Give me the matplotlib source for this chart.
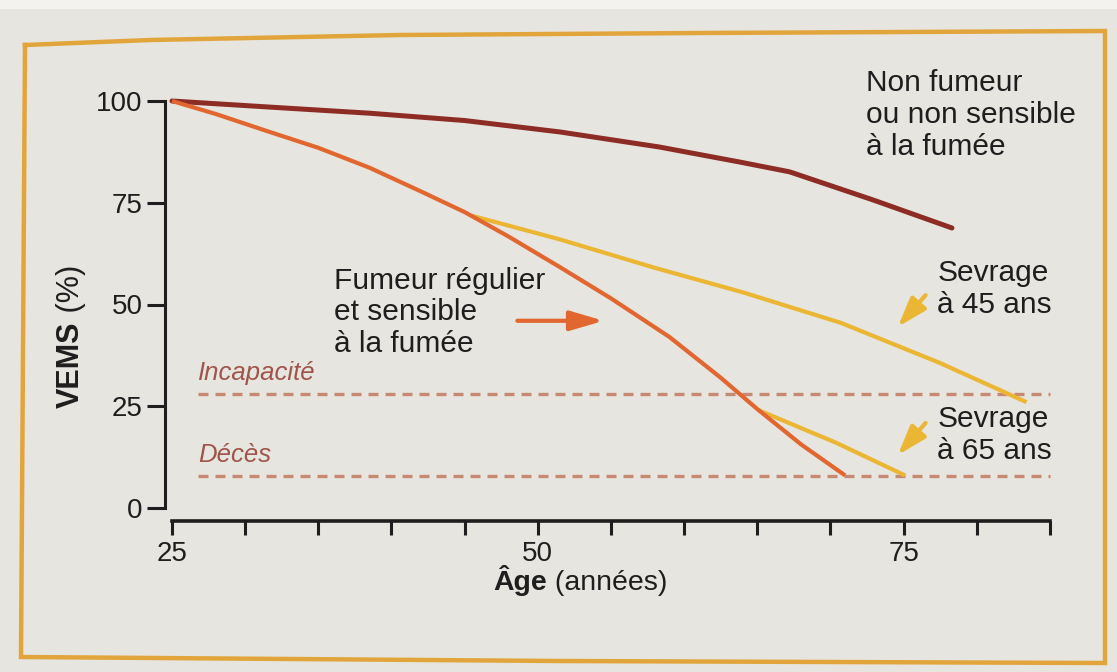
import matplotlib
matplotlib.use("Agg")
import matplotlib.pyplot as plt
from matplotlib.lines import Line2D
from matplotlib.patches import Rectangle

plt.rcParams['font.family'] = ['Liberation Sans', 'DejaVu Sans']

# VEMS (%), by age (years)
age_non_fumeur = [25, 31.7, 38.5, 45, 51.5, 58.3, 63.8, 67.2, 72.9, 78.3]
vems_non_fumeur = [100, 98.5, 97.0, 95.2, 92.4, 88.7, 85.0, 82.6, 75.7, 68.8]

age_fumeur = [25, 28, 31.5, 35, 38.5, 42, 45, 48, 51.5, 55, 59, 62.5, 65, 68, 71]
vems_fumeur = [100, 96.8, 92.6, 88.5, 83.6, 77.8, 72.7, 66.7, 59.2, 51.5, 42.0,
               32.0, 24.3, 15.6, 8.0]

age_sevrage_45 = [45.5, 51.5, 58, 64, 70.7, 77.5, 83.4]
vems_sevrage_45 = [71.8, 66.0, 59.0, 53.0, 45.5, 35.6, 26.0]

age_sevrage_65 = [65.1, 70.4, 75.1]
vems_sevrage_65 = [24.0, 16.0, 8.0]

seuil_values = [28, 7.8]
seuil_labels = ["Incapacité", "Décès"]

x_ticks = [25, 30, 35, 40, 45, 50, 55, 60, 65, 70, 75, 80, 85]
x_tick_labels = ["25", "", "", "", "", "50", "", "", "", "", "75", "", ""]
y_ticks = [0, 25, 50, 75, 100]

W, H = 1117, 672
BG = '#E7E5E0'
TXT = '#1E1E1E'
C_NON = '#8C2C24'
C_FUM = '#E1662F'
C_SEV = '#EAB634'
C_SEUIL = '#C68A72'
C_SEUIL_TXT = '#A0544A'
C_BORD = '#E2A53C'

fig = plt.figure(figsize=(W / 100, H / 100), dpi=100, facecolor=BG)

# white strip at the very top of the photo
fig.add_artist(Rectangle((0, 1 - 9 / H), 1, 9 / H, transform=fig.transFigure,
                         facecolor='#F3F2EF', edgecolor='none', zorder=0))

# gold frame around the figure (slightly skewed, as in the photo)
bx = [25, 150, 400, 700, 1105, 1105, 1105, 560, 21, 23, 25]
by = [45, 40, 35, 33, 31, 345, 663, 661, 657, 350, 45]
fig.add_artist(Line2D([x / W for x in bx], [1 - y / H for y in by],
                      transform=fig.transFigure, color=C_BORD, lw=3.2,
                      solid_joinstyle='miter'))

ax = fig.add_axes([172 / W, 1 - 508 / H, (1050 - 172) / W, (508 - 101) / H])
ax.patch.set_visible(False)
ax.set_xlim(25, 85)
ax.set_ylim(0, 100)

for s in ['top', 'right']:
    ax.spines[s].set_visible(False)
ax.spines['left'].set_position(('outward', 5))
ax.spines['left'].set_bounds(0, 100)
ax.spines['left'].set_linewidth(2.2)
ax.spines['bottom'].set_position(('outward', 9))
ax.spines['bottom'].set_bounds(25, 85)
ax.spines['bottom'].set_linewidth(2.6)
for s in ['left', 'bottom']:
    ax.spines[s].set_color(TXT)

ax.set_xticks(x_ticks)
ax.set_xticklabels(x_tick_labels)
ax.set_yticks(y_ticks)
ax.tick_params(axis='y', length=13, width=2.2, pad=3, labelsize=20, colors=TXT)
ax.tick_params(axis='x', length=10, width=2.2, pad=5, labelsize=20, colors=TXT)

# threshold lines
for val, lab in zip(seuil_values, seuil_labels):
    ax.plot([26.8, 85], [val, val], color=C_SEUIL, lw=2.4, ls=(0, (3, 2.1)),
            clip_on=False, zorder=2)
    ax.text(26.8, val + 3.5, lab, style='italic', fontsize=18.5,
            color=C_SEUIL_TXT, ha='left', va='baseline')

# curves
ax.plot(age_non_fumeur, vems_non_fumeur, color=C_NON, lw=3.6,
        solid_capstyle='round', solid_joinstyle='round', clip_on=False, zorder=4)
ax.plot(age_sevrage_45, vems_sevrage_45, color=C_SEV, lw=3.0,
        solid_capstyle='butt', solid_joinstyle='round', clip_on=False, zorder=3)
ax.plot(age_sevrage_65, vems_sevrage_65, color=C_SEV, lw=3.0,
        solid_capstyle='butt', solid_joinstyle='round', clip_on=False, zorder=3)
ax.plot(age_fumeur, vems_fumeur, color=C_FUM, lw=3.0,
        solid_capstyle='butt', solid_joinstyle='round', clip_on=False, zorder=4)

# labels of the curves (anchored on the baseline of their last line)
fs = 21.5
lsp = 1.17
ax.text(72.4, 86.8, "Non fumeur\nou non sensible\nà la fumée", fontsize=fs,
        color=TXT, ha='left', va='baseline', linespacing=lsp)
ax.text(36.1, 38.3, "Fumeur régulier\net sensible\nà la fumée", fontsize=fs,
        color=TXT, ha='left', va='baseline', linespacing=lsp)
ax.text(77.3, 47.9, "Sevrage\nà 45 ans", fontsize=fs,
        color=TXT, ha='left', va='baseline', linespacing=lsp)
ax.text(77.3, 12.1, "Sevrage\nà 65 ans", fontsize=fs,
        color=TXT, ha='left', va='baseline', linespacing=lsp)

# arrows
ax.annotate('', xy=(54.5, 46.0), xytext=(48.6, 46.0),
            arrowprops=dict(arrowstyle='-|>,head_length=1.7,head_width=0.5',
                            color=C_FUM, lw=3, mutation_scale=12,
                            shrinkA=0, shrinkB=0))
for tail, tip in [((76.5, 52.3), (74.6, 44.5)), ((76.5, 20.9), (74.6, 13.0))]:
    ax.annotate('', xy=tip, xytext=tail,
                arrowprops=dict(arrowstyle='-|>,head_length=1.5,head_width=0.5',
                                color=C_SEV, lw=3, mutation_scale=12,
                                shrinkA=0, shrinkB=0))

# axis titles: bold word + regular unit
t1 = fig.text(493 / W, 1 - 590 / H, "Âge", fontsize=20.5, weight='bold',
              color=TXT, ha='left', va='baseline')
ax.annotate(" (années)", xy=(1, 0), xycoords=t1, fontsize=20.5, color=TXT,
            ha='left', va='bottom')
t2 = fig.text(86 / W, 1 - 408 / H, "VEMS", fontsize=22, weight='bold',
              color=TXT, rotation=90, ha='right', va='bottom')
ax.annotate(" (%)", xy=(1, 1), xycoords=t2, fontsize=22, color=TXT,
            rotation=90, ha='right', va='bottom')

fig.savefig("out.png", dpi=100, facecolor=BG)
